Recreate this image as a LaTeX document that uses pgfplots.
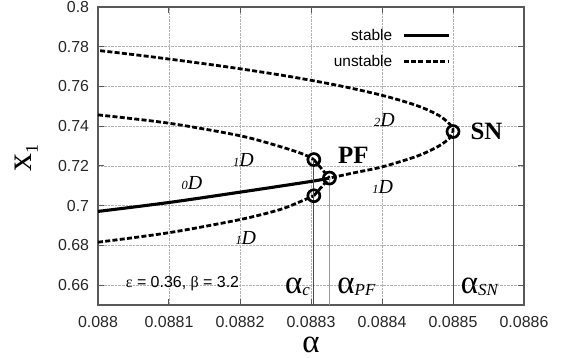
\documentclass[border=0pt]{standalone}
\usepackage{fontspec}
\setmainfont{Liberation Sans}
\newfontfamily\serif{Liberation Serif}
\usepackage{pgfplots}
\pgfplotsset{compat=1.18}
\newcommand\pD[1]{{\serif\itshape\fontsize{20}{20}\selectfont{\fontsize{12.5}{12.5}\selectfont #1}D}}
\newcommand\al[1]{{\serif\fontsize{33}{33}\selectfont α\raisebox{-1.5bp}{\itshape\fontsize{17}{17}\selectfont #1}}}
\begin{document}
\begin{tikzpicture}
\begin{axis}[
  scale only axis, width=426bp, height=298bp,
  xmin=0.088, xmax=0.0886, ymin=0.65, ymax=0.8,
  xtick={0.088,0.0881,0.0882,0.0883,0.0884,0.0885,0.0886},
  xticklabels={0.088,0.0881,0.0882,0.0883,0.0884,0.0885,0.0886},
  ytick={0.66,0.68,0.7,0.72,0.74,0.76,0.78,0.8},
  yticklabels={0.66,0.68,0.7,0.72,0.74,0.76,0.78,0.8},
  scaled x ticks=false, scaled y ticks=false,
  tick label style={font=\fontsize{16}{16}\selectfont, text=black!85, inner sep=0pt},
  xticklabel style={anchor=north, yshift=-11bp},
  yticklabel style={anchor=east, xshift=-8.7bp},
  grid=major, major grid style={densely dotted, black!30, line width=0.6bp},
  axis line style={black!65, line width=1.2bp},
  major tick length=6bp, tick style={black!65, line width=1bp},
  xlabel={\serif\fontsize{33}{33}\selectfont α},
  xlabel style={at={(rel axis cs:0.5,-0.158)}, anchor=base, inner sep=0pt},
  ylabel={\serif\fontsize{36}{36}\selectfont x\raisebox{-6bp}{\fontsize{18}{18}\selectfont 1}},
  ylabel style={at={(rel axis cs:-0.155,0.492)}, anchor=base, inner sep=0pt},
  clip mode=individual,
  legend style={draw=none, fill=none, inner sep=0pt, at={(rel axis cs:0.8275,0.925)}, anchor=north east,
    font=\fontsize{15.5}{15.5}\selectfont, column sep=10bp, row sep=13bp, nodes={inner sep=0pt}},
  legend plot pos=right, legend cell align=right,
  legend image code/.code={\draw[#1] (0bp,0bp) -- (45bp,0bp);},
  dsh/.style={black, line width=2.8bp, dash pattern=on 5bp off 2.3bp},
]
% stable 0D branch
\addplot[black, line width=3.1bp, smooth] coordinates {
 (0.088,0.6971) (0.0881,0.7016) (0.0882,0.7068) (0.0883,0.7122) (0.088326,0.7139)};
\addlegendentry{stable}
% 2D / 1D branch through SN
\addplot[dsh, smooth] coordinates {
 (0.088003,0.7780) (0.088074,0.775) (0.088179,0.770) (0.088270,0.765) (0.088345,0.760)
 (0.088406,0.755) (0.088452,0.750) (0.088482,0.745) (0.088498,0.740) (0.0885,0.7373)
 (0.088495,0.7340) (0.08848,0.7300) (0.08845,0.7250) (0.0884,0.7195) (0.08836,0.7165) (0.088326,0.7139)};
\addlegendentry{unstable}
% upper-left 1D branch
\addplot[dsh, smooth, forget plot] coordinates {
 (0.088,0.7457) (0.0881,0.7415) (0.0882,0.7352) (0.088256,0.7298) (0.08829,0.7258) (0.088304,0.7232)};
\addplot[dsh, forget plot] coordinates {(0.088304,0.7232) (0.088326,0.7139)};
% lower-left 1D branch
\addplot[dsh, smooth, forget plot] coordinates {
 (0.088,0.6816) (0.0881,0.6864) (0.0882,0.6930) (0.088256,0.6980) (0.088286,0.7022) (0.088304,0.7050)};
\addplot[dsh, forget plot] coordinates {(0.088304,0.7050) (0.088326,0.7139)};
% vertical lines
\addplot[black!70, line width=1.2bp, forget plot] coordinates {(0.088304,0.65) (0.088304,0.7232)};
\addplot[black!40, line width=1bp, forget plot] coordinates {(0.088326,0.65) (0.088326,0.7139)};
\addplot[black!70, line width=1bp, forget plot] coordinates {(0.0885,0.65) (0.0885,0.7373)};
% bifurcation points
\addplot[only marks, mark=o, mark size=6bp, mark options={line width=2.7bp, black}, forget plot] coordinates {
 (0.088304,0.7232) (0.088304,0.7050) (0.088326,0.7139) (0.0885,0.7373)};
% annotations
\node[anchor=base] at (axis cs:0.0881324,0.7079) {\pD{0}};
\node[anchor=base] at (axis cs:0.0882047,0.7196) {\pD{1}};
\node[anchor=base] at (axis cs:0.0882082,0.6807) {\pD{1}};
\node[anchor=base] at (axis cs:0.0884011,0.7059) {\pD{1}};
\node[anchor=base] at (axis cs:0.0884035,0.7401) {\pD{2}};
\node[anchor=base] at (axis cs:0.0883596,0.7210) {\serif\bfseries\fontsize{25}{25}\selectfont PF};
\node[anchor=base west, inner sep=0pt] at (axis cs:0.0885244,0.7334) {\serif\bfseries\fontsize{25}{25}\selectfont SN};
\node[anchor=base] at (axis cs:0.088119,0.6589) {\fontsize{16}{16}\selectfont{\serif ε} = 0.36, {\serif β} = 3.2};
\node[anchor=base east, inner sep=0pt] at (axis cs:0.0882986,0.65555) {\al{c}};
\node[anchor=base west, inner sep=0pt] at (axis cs:0.088337,0.65555) {\al{PF}};
\node[anchor=base west, inner sep=0pt] at (axis cs:0.0885109,0.65555) {\al{SN}};
\end{axis}
\pgfresetboundingbox
\path[use as bounding box] ([xshift=-98bp,yshift=-53bp]current axis.south west) rectangle ([xshift=40bp,yshift=7bp]current axis.north east);
\end{tikzpicture}
\end{document}
